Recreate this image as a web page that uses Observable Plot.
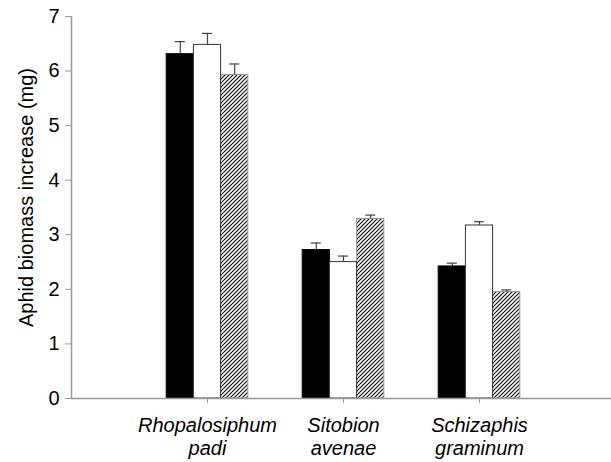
<!DOCTYPE html>
<html><head><meta charset="utf-8">
<script src="https://cdn.jsdelivr.net/npm/d3@7"></script>
<script src="https://cdn.jsdelivr.net/npm/@observablehq/plot@0.6"></script>
<style>html,body{margin:0;padding:0;background:#fff;overflow:hidden}</style>
</head><body><div id="chart"></div>
<script>
const species = ["Rhopalosiphum\npadi", "Sitobion\navenae", "Schizaphis\ngraminum"];
const seriesNames = ["Treatment A", "Treatment B", "Treatment C"];
const meanA = [6.31, 2.72, 2.42];
const errA = [0.23, 0.13, 0.06];
const meanB = [6.48, 2.50, 3.17];
const errB = [0.21, 0.11, 0.07];
const meanC = [5.93, 3.29, 1.95];
const errC = [0.20, 0.07, 0.04];
const yTicks = [0, 1, 2, 3, 4, 5, 6, 7];
const yTitle = "Aphid biomass increase (mg)";

const means = [meanA, meanB, meanC];
const errs = [errA, errB, errC];
const offsets = [-0.2, 0, 0.2];
const rows = [];
species.forEach((s, i) => {
  seriesNames.forEach((n, k) => {
    rows.push({pos: i + 1, series: k, v: means[k][i], e: errs[k][i]});
  });
});
const cx = d => d.pos + offsets[d.series];

function hatchDefs() {
  const ns = "http://www.w3.org/2000/svg";
  const defs = document.createElementNS(ns, "defs");
  const p = document.createElementNS(ns, "pattern");
  p.setAttribute("id", "hatch");
  p.setAttribute("width", "4");
  p.setAttribute("height", "4");
  p.setAttribute("patternUnits", "userSpaceOnUse");
  const r = document.createElementNS(ns, "rect");
  r.setAttribute("width", "4"); r.setAttribute("height", "4"); r.setAttribute("fill", "white");
  const path = document.createElementNS(ns, "path");
  path.setAttribute("d", "M-1,1 l2,-2 M0,4 l4,-4 M3,5 l2,-2");
  path.setAttribute("stroke", "#111");
  path.setAttribute("stroke-width", "1.2");
  p.appendChild(r); p.appendChild(path);
  defs.appendChild(p);
  return defs;
}

const chart = Plot.plot({
  width: 611,
  height: 462,
  marginTop: 16,
  marginBottom: 64,
  marginLeft: 71,
  marginRight: 0,
  style: {fontFamily: "'Liberation Sans', Arial, sans-serif", fontSize: "20px", background: "white", color: "black"},
  x: {domain: [0, 4], range: [71, 615], axis: null},
  y: {domain: [0, 7], axis: null},
  marks: [
    hatchDefs,
    Plot.rectY(rows.filter(d => d.series === 0), {x1: d => cx(d) - 0.1, x2: d => cx(d) + 0.1, y1: 0, y2: "v", fill: "black", stroke: "black", strokeWidth: 1}),
    Plot.rectY(rows.filter(d => d.series === 2), {x1: d => cx(d) - 0.1, x2: d => cx(d) + 0.1, y1: 0, y2: "v", fill: "url(#hatch)", stroke: "#999", strokeWidth: 1}),
    Plot.rectY(rows.filter(d => d.series === 1), {x1: d => cx(d) - 0.1, x2: d => cx(d) + 0.1, y1: 0, y2: "v", fill: "white", stroke: "#333", strokeWidth: 1}),
    Plot.ruleX(rows, {x: cx, y1: "v", y2: d => d.v + d.e, stroke: "#444", strokeWidth: 1.2}),
    Plot.ruleY(rows, {y: d => d.v + d.e, x1: d => cx(d) - 0.037, x2: d => cx(d) + 0.037, stroke: "#444", strokeWidth: 1.2}),
    Plot.ruleX([0], {y1: 0, y2: 7, stroke: "#999", strokeWidth: 1.5}),
    Plot.ruleY([0], {x1: 0, x2: 4, stroke: "#999", strokeWidth: 1.5}),
    Plot.axisY(yTicks, {tickSize: 6, tickPadding: 6, stroke: "#999", fill: "black", fontSize: 20, tickFormat: d3.format("d"), label: null}),
    Plot.axisX([1, 2, 3], {tickSize: 5, tickPadding: 12, stroke: "#999", fill: "black", fontSize: 20, fontStyle: "italic", lineHeight: 1.15, tickFormat: d => species[d - 1], label: null}),
    Plot.text([yTitle], {frameAnchor: "left", textAnchor: "middle", rotate: -90, dx: -45, dy: -10, fontSize: 20, fill: "black"})
  ]
});
document.getElementById("chart").appendChild(chart);
</script>
</body></html>
